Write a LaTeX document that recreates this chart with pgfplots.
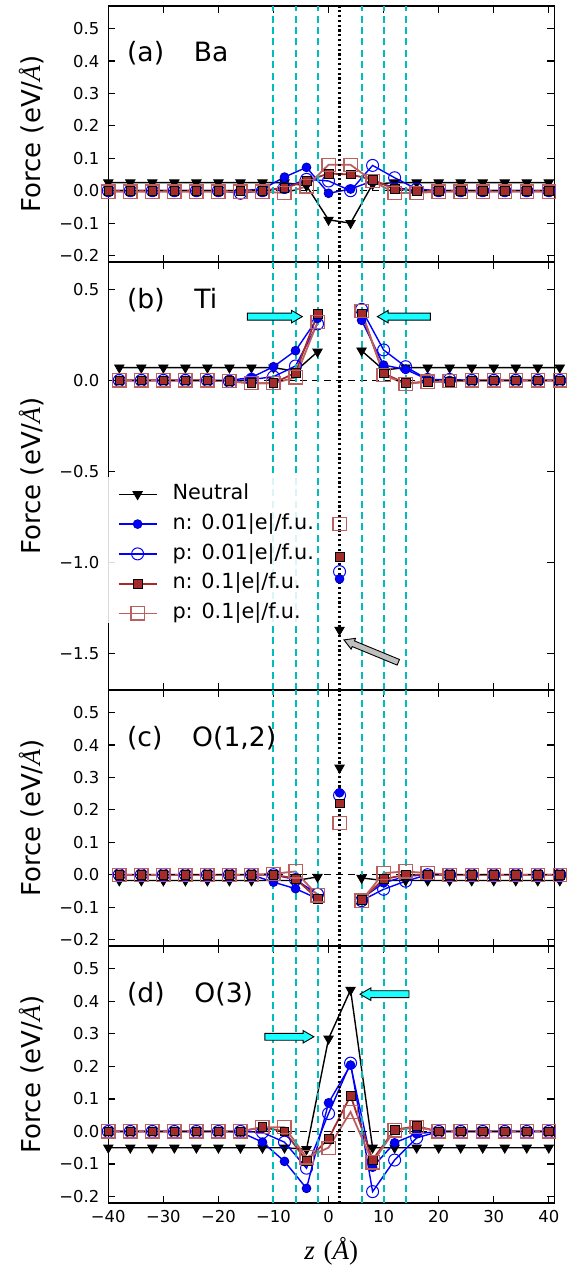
\documentclass[border=0pt]{standalone}
\usepackage{fontspec}
\setmainfont{DejaVu Sans}
\newfontfamily\serifit{Liberation Serif}
\usepackage{pgfplots}
\usepackage{pgfplotstable}
\pgfplotsset{compat=1.18}
\usetikzlibrary{shapes.arrows}
\definecolor{brownc}{HTML}{A52A2A}
\definecolor{cyanc}{rgb}{0,0.74,0.74}
\definecolor{aqua}{rgb}{0.1,1,1}
\definecolor{greyarrow}{rgb}{0.75,0.75,0.75}
\newcommand{\AAit}{{\serifit\itshape Å}}

% Ba: z, Neutral, n 0.01, p 0.01, n 0.1, p 0.1
\pgfplotstableread{
z   neu    na     pa     nb     pb
-40 0.025  0.000  0.000  0.000 -0.003
-36 0.025  0.000  0.000  0.000 -0.003
-32 0.025  0.000  0.000  0.000 -0.003
-28 0.025  0.000  0.000  0.000 -0.003
-24 0.025  0.000  0.000  0.000 -0.003
-20 0.025  0.000  0.000  0.000 -0.003
-16 0.025  0.000 -0.008  0.000 -0.003
-12 0.025  0.005  0.000  0.000 -0.003
-8  0.025  0.042  0.010  0.008 -0.007
-4  0.015  0.072  0.035  0.030  0.013
0  -0.090 -0.008  0.030  0.053  0.080
4  -0.100  0.005  0.000  0.050  0.080
8   0.020  0.030  0.078  0.034  0.030
12  0.025  0.010  0.040  0.005 -0.007
16  0.025  0.000  0.005  0.000 -0.007
20  0.025  0.000  0.000  0.000 -0.003
24  0.025  0.000  0.000  0.000 -0.003
28  0.025  0.000  0.000  0.000 -0.003
32  0.025  0.000  0.000  0.000 -0.003
36  0.025  0.000  0.000  0.000 -0.003
40  0.025  0.000  0.000  0.000 -0.003
}\ba

\pgfplotstableread{
z   neu    na     pa     nb     pb
-38 0.070  0.000  0.000  0.000  0.000
-34 0.070  0.000  0.000  0.000  0.000
-30 0.070  0.000  0.000  0.000  0.000
-26 0.070  0.000  0.000  0.000  0.000
-22 0.070  0.000  0.000  0.000  0.000
-18 0.070  0.000 -0.005 -0.005 -0.005
-14 0.070  0.016  0.005 -0.016 -0.016
-10 0.070  0.075  0.020 -0.016 -0.016
-6  0.050  0.163  0.079  0.042  0.016
-2  0.157  0.340  0.310  0.364  0.320
2   nan    nan    nan    nan    nan
6   0.163  0.330  0.390  0.368  0.380
10  0.057  0.084  0.167  0.038  0.030
14  0.070  0.060  0.075 -0.016 -0.020
18  0.070  0.005  0.005 -0.007 -0.007
22  0.070  0.000  0.005 -0.007 -0.005
26  0.070  0.000  0.000  0.000  0.000
30  0.070  0.000  0.000  0.000  0.000
34  0.070  0.000  0.000  0.000  0.000
38  0.070  0.000  0.000  0.000  0.000
42  0.070  0.000  0.000  0.000  0.000
}\ti
\pgfplotstableread{
z neu   na    pa    nb    pb
2 -1.37 -1.09 -1.05 -0.97 -0.79
}\tic

\pgfplotstableread{
z   neu    na     pa     nb     pb
-38 -0.018  0.000  0.000  0.000  0.000
-34 -0.018  0.000  0.000  0.000  0.000
-30 -0.018  0.000  0.000  0.000  0.000
-26 -0.018  0.000  0.000  0.000  0.000
-22 -0.018  0.000  0.000  0.000  0.000
-18 -0.018  0.000  0.000  0.000  0.000
-14 -0.018  0.000  0.000  0.000  0.000
-10 -0.018 -0.023  0.000  0.000  0.003
-6  -0.018 -0.043 -0.015 -0.012  0.010
-2  -0.007 -0.074 -0.060 -0.074 -0.064
2   nan    nan    nan    nan    nan
6   -0.010 -0.074 -0.080 -0.077 -0.080
10  -0.018 -0.025 -0.045 -0.014  0.005
14  -0.018 -0.005 -0.020  0.000  0.010
18  -0.018  0.000  0.000  0.000  0.005
22  -0.018  0.000  0.000  0.000  0.000
26  -0.018  0.000  0.000  0.000  0.000
30  -0.018  0.000  0.000  0.000  0.000
34  -0.018  0.000  0.000  0.000  0.000
38  -0.018  0.000  0.000  0.000  0.000
42  -0.018  0.000  0.000  0.000  0.000
}\oa
\pgfplotstableread{
z neu  na    pa    nb    pb
2 0.33 0.253 0.245 0.22 0.16
}\oac

\pgfplotstableread{
z   neu    na     pa     nb     pb
-40 -0.050  0.000  0.000  0.000  0.000
-36 -0.050  0.000  0.000  0.000  0.000
-32 -0.050  0.000  0.000  0.000  0.000
-28 -0.050  0.000  0.000  0.000  0.000
-24 -0.050  0.000  0.000  0.000  0.000
-20 -0.050  0.000  0.000  0.000  0.000
-16 -0.050 -0.002  0.000  0.000  0.000
-12 -0.050 -0.033 -0.003  0.013  0.013
-8  -0.050 -0.092 -0.033  0.000  0.013
-4  -0.055 -0.175 -0.113 -0.090 -0.080
0    0.285  0.088  0.055 -0.023 -0.050
4    0.435  0.204  0.210  0.110  0.060
8   -0.050 -0.110 -0.185 -0.087 -0.095
12  -0.050 -0.035 -0.088  0.005  0.003
16  -0.050 -0.007 -0.020  0.016  0.013
20  -0.050  0.000  0.000  0.000  0.000
24  -0.050  0.000  0.000  0.000  0.000
28  -0.050  0.000  0.000  0.000  0.000
32  -0.050  0.000  0.000  0.000  0.000
36  -0.050  0.000  0.000  0.000  0.000
40  -0.050  0.000  0.000  0.000  0.000
}\ob

\pgfplotsset{
  panel/.style={
    scale only axis, width=223pt, xmin=-40, xmax=41, clip=false,
    xtick={-40,-30,-20,-10,0,10,20,30,40},
    tick align=inside, major tick length=3.5pt,
    axis line style={line width=0.7pt},
    every tick/.style={black, line width=0.6pt},
    tick label style={font=\fontsize{8.2}{9.8}\selectfont},
    yticklabel style={xshift=-1pt},
    ylabel={Force (eV/\AAit)},
    every axis y label/.style={at={(axis description cs:0,0.5)}, xshift=-38.6pt,
      rotate=90, anchor=center, font=\fontsize{13}{15}\selectfont},
    unbounded coords=jump,
  },
  small/.style={height=128pt, ymin=-0.22, ymax=0.57,
    ytick={-0.2,-0.1,0,0.1,0.2,0.3,0.4,0.5},
    yticklabels={−0.2,−0.1,0.0,0.1,0.2,0.3,0.4,0.5}},
  neutral/.style={black, line width=0.7pt, mark=triangle*, mark size=2.7pt,
    mark options={solid, rotate=180, fill=black, line width=0.4pt}},
  na/.style={blue, line width=0.7pt, mark=*, mark size=2.2pt,
    mark options={solid, fill=blue, draw=blue!70!black, line width=0.4pt}},
  pa/.style={blue, line width=0.7pt, mark=o, mark size=3pt,
    mark options={solid, draw=blue, line width=0.5pt}},
  nb/.style={brownc, line width=0.9pt, mark=square*, mark size=2.2pt,
    mark options={solid, fill=brownc, draw=black, line width=0.4pt}},
  pb/.style={brownc!75!white, line width=0.9pt, mark=square, mark size=3.3pt,
    mark options={solid, line width=0.6pt}},
}
\tikzset{
  plab/.style={anchor=base west, inner sep=0pt, font=\fontsize{13.3}{15}\selectfont},
  fat/.style={single arrow, draw=black, line width=0.45pt, fill=aqua,
    inner sep=1.5pt, single arrow head extend=1.4pt, single arrow tip angle=60, anchor=tip},
}

\newcommand{\series}[1]{%
  \addplot[neutral] table[x=z,y=neu]{#1};
  \addplot[na] table[x=z,y=na]{#1};
  \addplot[pa] table[x=z,y=pa]{#1};
  \addplot[nb] table[x=z,y=nb]{#1};
  \addplot[pb] table[x=z,y=pb]{#1};
}
\newcommand{\midpts}[1]{%
  \addplot[neutral, only marks, forget plot] table[x=z,y=neu]{#1};
  \addplot[na, only marks, forget plot] table[x=z,y=na]{#1};
  \addplot[pa, only marks, forget plot] table[x=z,y=pa]{#1};
  \addplot[nb, only marks, forget plot] table[x=z,y=nb]{#1};
  \addplot[pb, only marks, forget plot] table[x=z,y=pb]{#1};
}
\newcommand{\decor}{%
  \draw[black, line width=0.6pt, dash pattern=on 3.5pt off 2.5pt] (axis cs:-40,0) -- (axis cs:41,0);
  \pgfplotsinvokeforeach{-10,-6,-2,6,10,14}{%
    \draw[color=cyanc, line width=1pt, dash pattern=on 3.5pt off 2.2pt]
      ({axis cs:##1,0}|-{rel axis cs:0,0}) -- ({axis cs:##1,0}|-{rel axis cs:0,1});}
  \draw[black, line width=1.1pt, dash pattern=on 1.1pt off 1.3pt]
    ({axis cs:2,0}|-{rel axis cs:0,0}) -- ({axis cs:2,0}|-{rel axis cs:0,1});
}

\begin{document}
\begin{tikzpicture}
\path[use as bounding box] (-54.15pt,-32.5pt) rectangle (231.85pt,601.5pt);

% (a) Ba
\begin{axis}[panel, small, at={(0,470.5pt)}, xticklabels={}]
\series{\ba}
\decor
\node[plab] at (axis cs:-36.66,0.399) {(a)\hspace{1.12em}Ba};
\end{axis}

% (b) Ti
\begin{axis}[panel, at={(0,256.5pt)}, height=214pt, ymin=-1.70, ymax=0.65,
  ytick={-1.5,-1,-0.5,0,0.5}, yticklabels={−1.5,−1.0,−0.5,0.0,0.5}, xticklabels={},
  legend style={at={(axis cs:-40,-0.531)}, anchor=north west, draw=none, fill=none,
    font=\fontsize{10.4}{12}\selectfont, inner xsep=4.5pt, inner ysep=3.5pt, row sep=5.1pt,
    nodes={inner sep=0pt, text height=7.5pt, text depth=2.3pt, anchor=west},
    /tikz/every odd column/.style={column sep=7.5pt}},
  legend cell align=left,
  legend image code/.code={\draw[mark repeat=2,mark phase=2] plot coordinates {(0pt,0pt) (9.5pt,0pt) (19pt,0pt)};}]
\series{\ti}
\midpts{\tic}
\decor
\fill[white, opacity=0.85] (axis cs:-40,-0.531) rectangle (axis cs:-4.1,-1.333);
\node[plab] at (axis cs:-36.66,0.396) {(b)\hspace{1.12em}Ti};
\node[fat, minimum height=27.5pt] at (axis cs:-4.6,0.35) {};
\node[fat, minimum height=26.5pt, shape border rotate=180] at (axis cs:8.7,0.35) {};
\node[fat, fill=greyarrow, minimum height=29.4pt, inner sep=1.3pt, rotate=157.6] at (axis cs:2.65,-1.423) {};
\legend{Neutral, n: 0.01|e|/f.u., p: 0.01|e|/f.u., n: 0.1|e|/f.u., p: 0.1|e|/f.u.}
\end{axis}

% (c) O(1,2)
\begin{axis}[panel, small, at={(0,128.5pt)}, xticklabels={}]
\series{\oa}
\midpts{\oac}
\decor
\node[plab] at (axis cs:-36.66,0.397) {(c)\hspace{1.12em}O(1,2)};
\end{axis}

% (d) O(3)
\begin{axis}[panel, small, at={(0,0)}, height=128.5pt,
  xticklabels={−40,−30,−20,−10,0,10,20,30,40},
  xlabel={{\serifit\itshape z} {\serifit(\itshape Å\/\upshape)}},
  every axis x label/.style={at={(axis description cs:0.5,0)}, yshift=-24pt, anchor=center,
    font=\fontsize{13.5}{15}\selectfont}]
\series{\ob}
\decor
\node[plab] at (axis cs:-36.66,0.395) {(d)\hspace{1.12em}O(3)};
\node[fat, minimum height=24.5pt] at (axis cs:-2.5,0.291) {};
\node[fat, minimum height=24.5pt, shape border rotate=180] at (axis cs:5.55,0.422) {};
\end{axis}
\end{tikzpicture}
\end{document}
